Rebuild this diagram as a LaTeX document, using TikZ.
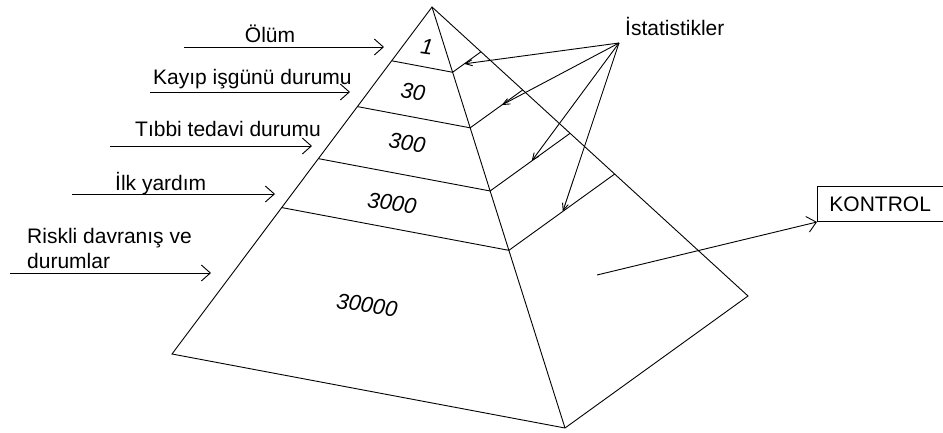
\documentclass[tikz,border=0pt]{standalone}
\usepackage{fontspec}
\setmainfont{Liberation Sans}
\usetikzlibrary{calc,arrows.meta}

\tikzset{pyr/.style={line width=0.9pt},
         lab/.style={font=\fontsize{21}{24}\selectfont,inner sep=0pt},
         num/.style={font=\fontsize{22}{26}\selectfont\itshape,rotate=-8,inner sep=0pt},
         arr/.style={line width=0.9pt,-{Straight Barb[length=9pt,width=16pt]}},
         sarr/.style={line width=0.9pt,-{Straight Barb[length=7pt,width=6pt]}}}

\begin{document}
\begin{tikzpicture}[x=1pt,y=-1pt]
  \useasboundingbox (0,0) rectangle (943,433);
  % pyramid
  \coordinate (A) at (432,7); \coordinate (L) at (172,354);
  \coordinate (F) at (565,428); \coordinate (R) at (748,296);
  \draw[pyr] (A)--(L)--(F)--(R)--cycle; \draw[pyr] (A)--(F);
  \foreach \t/\n in {0.155/1,0.287/2,0.437/3,0.578/4}
    {\coordinate (l\n) at ($(A)!\t!(L)$); \coordinate (f\n) at ($(A)!\t!(F)$);
     \coordinate (r\n) at ($(A)!\t!(R)$); \draw[pyr] (l\n)--(f\n)--(r\n);}
  \foreach \x/\y/\v/\n in {427/47/1/1,413/92/30/2,407/143/300/3,392/203/3000/4,367/305/30000/5}
    {\node[num] (n\n) at (\x,\y) {\v};}
  % levels
  \node[lab,anchor=base] (olum) at (270,43) {Ölüm};
  \node[lab,anchor=base west] (kayip) at (153,85) {Kayıp işgünü durumu};
  \node[lab,anchor=base west] (tibbi) at (135,137) {Tıbbi tedavi durumu};
  \node[lab,anchor=base west] (ilk) at (115,191) {İlk yardım};
  \node[lab,anchor=base west] (risk1) at (27,243) {Riskli davranış ve};
  \node[lab,anchor=base west] (risk2) at (27,268) {durumlar};
  \foreach \a/\b/\y/\n in {184/384/47/1,150/350/92/2,110/312/146/3,72/275/194/4,10/211/273/5}
    {\coordinate (a\n) at (\a,\y); \coordinate (b\n) at (\b,\y); \draw[arr] (a\n)--(b\n);}
  % statistics
  \node[lab,anchor=base west] (ist) at (625,36) {İstatistikler};
  \coordinate (S) at (619,43);
  \foreach \t/\n in {0.41/1,0.6/2,0.52/3,0.51/4}
    {\coordinate (s\n) at ($(f\n)!\t!(r\n)$); \draw[sarr] (S)--(s\n);}
  % control
  \node[draw,line width=0.9pt,font=\fontsize{21}{24}\selectfont,anchor=south west,
        minimum height=35pt,inner xsep=12pt] (kontrol) at (817,222) {KONTROL};
  \coordinate (k0) at (597,275);
  \draw[arr] (k0)--(kontrol.south west);
\end{tikzpicture}
\end{document}
